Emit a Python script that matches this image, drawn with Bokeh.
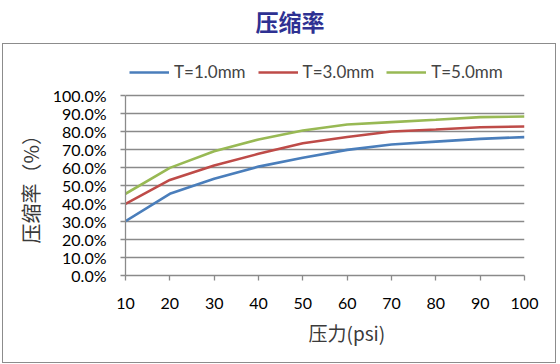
from bokeh.plotting import figure
from bokeh.models import (FixedTicker, PrintfTickFormatter, Legend, LegendItem,
                          Range1d, Div, Title)
from bokeh.layouts import column
from bokeh.embed import file_html
from bokeh.resources import INLINE

pressure = [10, 20, 30, 40, 50, 60, 70, 80, 90, 100]
t10 = [30.2, 45.4, 53.7, 60.5, 65.4, 69.8, 72.8, 74.4, 75.9, 76.9]
t30 = [39.8, 53.1, 61.1, 67.6, 73.5, 76.9, 80.0, 81.1, 82.4, 82.8]
t50 = [45.4, 59.8, 69.0, 75.6, 80.6, 83.9, 85.2, 86.5, 88.0, 88.3]
series_names = ["T=1.0mm", "T=3.0mm", "T=5.0mm"]
colors = ["#4A7EBB", "#BE4B48", "#98B954"]
y_ticks = [0, 10, 20, 30, 40, 50, 60, 70, 80, 90, 100]

title_div = Div(text="压缩率", width=560, height=44, margin=(0, 0, 0, 0),
                styles={"font-family": "Noto Sans CJK SC", "font-size": "23px",
                        "font-weight": "bold", "color": "#2E3192",
                        "text-align": "center", "line-height": "30px",
                        "padding-left": "20px", "padding-top": "6px",
                        "box-sizing": "border-box"})

# frame spans from the legend row (top) down to 0%; 100% sits 180px above 0%
W, H = 552, 318
frame_h = 213
leg_h = 20
y_top = 100 * frame_h / 180
p = figure(width=W, height=H, output_backend="svg", toolbar_location=None,
           x_range=Range1d(10, 100), y_range=Range1d(0, y_top),
           min_border_left=122, min_border_right=31, min_border_top=18,
           min_border_bottom=87, margin=(0, 0, 0, 3),
           styles={"outline": "1px solid #8c8c8c"})
p.outline_line_color = None
p.background_fill_color = "white"
p.border_fill_color = "white"

p.xgrid.grid_line_color = None
p.ygrid.grid_line_color = "#8a8a8a"
p.ygrid.grid_line_width = 1.3
p.ygrid.ticker = FixedTicker(ticks=y_ticks)

tick_font = "Lato"
for ax in (p.xaxis[0], p.yaxis[0]):
    ax.axis_line_color = "#8a8a8a"
    ax.axis_line_width = 1.3
    ax.major_tick_line_color = "#8a8a8a"
    ax.major_tick_line_width = 1.3
    ax.major_tick_in = 0
    ax.major_tick_out = 5
    ax.minor_tick_line_color = None
    ax.major_label_text_font = tick_font
    ax.major_label_text_font_size = "16px"
    ax.major_label_text_color = "#000000"

p.xaxis.ticker = FixedTicker(ticks=pressure)
p.xaxis.major_label_standoff = 17
p.yaxis.ticker = FixedTicker(ticks=y_ticks)
p.yaxis.bounds = (0, 100)
p.yaxis.formatter = PrintfTickFormatter(format="%.1f%%")
p.yaxis.major_label_standoff = 14

# x-axis caption as a below title (so it can be offset like the reference)
p.title_location = "below"
p.title.text = "压力(psi)"
p.title.align = "left"
p.title.offset = 183
p.title.text_font = "Noto Sans CJK SC"
p.title.text_font_size = "19px"
p.title.text_font_style = "normal"
p.title.text_color = "#3a3a3a"
p.title.standoff = 11

# y-axis caption as a left title, centred on the 0-100% span
ytitle = Title(text="压缩率（%）", align="left", offset=32,
               text_font="Noto Sans CJK SC", text_font_size="20px",
               text_font_style="normal", text_color="#3a3a3a", standoff=10)
p.add_layout(ytitle, "left")

items = []
for name, ys, c in zip(series_names, [t10, t30, t50], colors):
    r = p.line(pressure, ys, line_color=c, line_width=2.6)
    items.append(LegendItem(label=name, renderers=[r]))

legend = Legend(items=items, orientation="horizontal",
                location=(4, frame_h - leg_h),
                padding=0, margin=0, spacing=12, glyph_width=40,
                glyph_height=leg_h, label_height=leg_h, label_standoff=5,
                label_text_font=tick_font, label_text_font_size="17px",
                border_line_color=None, background_fill_alpha=0)
p.add_layout(legend, "center")

layout = column(title_div, p, spacing=0)
open("out.html", "w").write(file_html(layout, INLINE))
